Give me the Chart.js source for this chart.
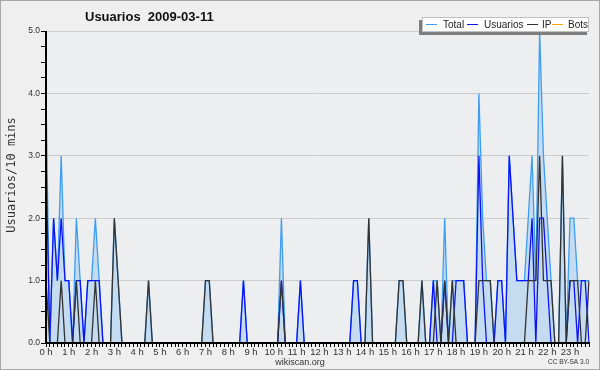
<!DOCTYPE html>
<html>
<head>
<meta charset="utf-8">
<script src="https://cdn.jsdelivr.net/npm/chart.js@4"></script>
<style>
  body { margin: 0; background: #fff; }
  #chart { display: block; }
</style>
</head>
<body>
<canvas id="chart" width="600" height="370"></canvas>
<script>
// one value per 10 minutes, 0 h .. 23 h 50
const hourLabels = ['0 h', '1 h', '2 h', '3 h', '4 h', '5 h', '6 h', '7 h', '8 h', '9 h', '10 h', '11 h',
    '12 h', '13 h', '14 h', '15 h', '16 h', '17 h', '18 h', '19 h', '20 h', '21 h', '22 h', '23 h'];

const total = [
    4,0,2,1,3,1, 1,0,2,1,0,1, 1,2,1,0,0,0, 2,1,0,0,0,0,
    0,0,0,1,0,0, 0,0,0,0,0,0, 0,0,0,0,0,0, 1,1,0,0,0,0,
    0,0,0,0,1,0, 0,0,0,0,0,0, 0,0,2,0,0,0, 0,1,0,0,0,0,
    0,0,0,0,0,0, 0,0,0,1,1,0, 0,2,0,0,0,0, 0,0,0,1,1,0,
    0,0,0,1,0,0, 1,1,0,2,0,1, 1,1,1,0,0,0, 4,2,1,1,0,1,
    1,0,3,2,1,1, 1,2,3,1,5,3, 2,1,0,0,3,0, 2,2,1,1,1,1
];
const usuarios = [
    3,0,2,1,2,1, 1,0,1,1,0,1, 1,1,1,0,0,0, 0,0,0,0,0,0,
    0,0,0,0,0,0, 0,0,0,0,0,0, 0,0,0,0,0,0, 0,0,0,0,0,0,
    0,0,0,0,1,0, 0,0,0,0,0,0, 0,0,1,0,0,0, 0,1,0,0,0,0,
    0,0,0,0,0,0, 0,0,0,1,1,0, 0,0,0,0,0,0, 0,0,0,0,0,0,
    0,0,0,0,0,0, 1,0,0,1,0,0, 1,1,1,0,0,0, 3,1,0,0,0,1,
    1,0,3,2,1,1, 1,1,2,0,2,2, 1,0,0,0,0,0, 1,1,0,1,1,0
];
const ip = [
    1,0,0,0,1,0, 0,0,1,0,0,0, 0,1,0,0,0,0, 2,1,0,0,0,0,
    0,0,0,1,0,0, 0,0,0,0,0,0, 0,0,0,0,0,0, 1,1,0,0,0,0,
    0,0,0,0,0,0, 0,0,0,0,0,0, 0,0,1,0,0,0, 0,0,0,0,0,0,
    0,0,0,0,0,0, 0,0,0,0,0,0, 0,2,0,0,0,0, 0,0,0,1,1,0,
    0,0,0,1,0,0, 0,1,0,1,0,1, 0,0,0,0,0,0, 1,1,1,1,0,0,
    0,0,0,0,0,0, 0,1,1,1,3,1, 1,1,0,0,3,0, 1,1,1,0,0,1
];
const bots = [
    0,0,0,0,0,0, 0,0,0,0,0,0, 0,0,0,0,0,0, 0,0,0,0,0,0,
    0,0,0,0,0,0, 0,0,0,0,0,0, 0,0,0,0,0,0, 0,0,0,0,0,0,
    0,0,0,0,0,0, 0,0,0,0,0,0, 0,0,0,0,0,0, 0,0,0,0,0,0,
    0,0,0,0,0,0, 0,0,0,0,0,0, 0,0,0,0,0,0, 0,0,0,0,0,0,
    0,0,0,0,0,0, 0,0,0,0,0,0, 0,0,0,0,0,0, 0,0,0,0,0,0,
    0,0,0,0,0,0, 0,0,0,0,0,0, 0,0,0,0,0,0, 0,0,0,0,0,0
];

const seriesNames = ['Total', 'Usuarios', 'IP', 'Bots'];
const seriesColors = ['#3d9df2', '#0a14f5', '#333333', '#ffa31a'];

// slot labels (one per 10 minutes)
const slots = [];
hourLabels.forEach((h, i) => {
    for (let m = 0; m < 6; m++) slots.push(i + ':' + m + '0');
});

const decor = {
    id: 'decor',
    beforeDraw(chart) {
        const { ctx, chartArea: a } = chart;
        ctx.save();
        ctx.fillStyle = '#efefef';
        ctx.fillRect(0, 0, 600, 370);
        ctx.strokeStyle = '#a8a8a8';
        ctx.lineWidth = 1;
        ctx.strokeRect(0.5, 0.5, 599, 369);
        ctx.fillStyle = '#eceef0';
        ctx.fillRect(a.left, a.top, a.right - a.left, a.bottom - a.top);
        ctx.restore();
    },
    afterDatasetsDraw(chart) {
        // axes on top of the lines, like the original
        const { ctx, chartArea: a } = chart;
        ctx.save();
        ctx.strokeStyle = '#000';
        ctx.lineWidth = 2;
        ctx.beginPath();
        ctx.moveTo(a.left, a.top);
        ctx.lineTo(a.left, a.bottom);
        ctx.lineTo(a.right + 1, a.bottom);
        ctx.stroke();
        ctx.restore();
    },
    afterDraw(chart) {
        const ctx = chart.ctx;
        ctx.save();
        ctx.fillStyle = '#111';
        ctx.font = 'bold 13px "Liberation Sans"';
        ctx.textAlign = 'left';
        ctx.textBaseline = 'alphabetic';
        ctx.fillText('Usuarios  2009-03-11', 85, 21);

        // y title
        ctx.save();
        ctx.translate(12, 175);
        ctx.rotate(-Math.PI / 2);
        ctx.font = '12px "DejaVu Sans Mono"';
        ctx.textAlign = 'center';
        ctx.textBaseline = 'middle';
        ctx.fillStyle = '#333';
        ctx.fillText('Usuarios/10 mins', 0, 0);
        ctx.restore();

        // legend box with shadow
        ctx.fillStyle = '#7d7d7d';
        ctx.fillRect(419, 20, 168, 15);
        ctx.fillStyle = '#fff';
        ctx.fillRect(422, 17, 167, 15);
        ctx.strokeStyle = '#c0c0c0';
        ctx.lineWidth = 1;
        ctx.strokeRect(422.5, 17.5, 166, 14);
        const lineX = [426, 467, 527, 552];
        const textX = [443, 484, 542, 568];
        ctx.font = '10px "Liberation Sans"';
        ctx.textAlign = 'left';
        ctx.textBaseline = 'middle';
        seriesNames.forEach((name, i) => {
            ctx.strokeStyle = seriesColors[i];
            ctx.lineWidth = 1;
            ctx.beginPath();
            ctx.moveTo(lineX[i], 24.5);
            ctx.lineTo(lineX[i] + 11, 24.5);
            ctx.stroke();
            ctx.fillStyle = '#222';
            ctx.fillText(name, textX[i], 25);
        });

        // footer
        ctx.fillStyle = '#333';
        ctx.font = '9px "Liberation Sans"';
        ctx.textAlign = 'center';
        ctx.textBaseline = 'alphabetic';
        ctx.fillText('wikiscan.org', 300, 365);
        ctx.font = '6.5px "Liberation Sans"';
        ctx.textAlign = 'right';
        ctx.fillText('CC BY-SA 3.0', 589, 364);
        ctx.restore();
    }
};

const ctx = document.getElementById('chart').getContext('2d');
const chart = new Chart(ctx, {
    type: 'line',
    data: {
        labels: slots,
        datasets: [
            { label: seriesNames[0], data: total, borderColor: seriesColors[0], backgroundColor: '#c5dbef',
              fill: 'origin', borderWidth: 1.3, order: 3 },
            { label: seriesNames[1], data: usuarios, borderColor: seriesColors[1], fill: false, borderWidth: 1.3, order: 2 },
            { label: seriesNames[2], data: ip, borderColor: seriesColors[2], fill: false, borderWidth: 1.3, order: 1 },
            { label: seriesNames[3], data: bots, borderColor: seriesColors[3], fill: false, borderWidth: 1.3, order: 0 }
        ]
    },
    options: {
        responsive: false,
        animation: false,
        devicePixelRatio: 1,
        elements: { point: { radius: 0 }, line: { tension: 0 } },
        layout: { padding: { left: 0, top: 31, right: 11, bottom: 0 } },
        plugins: {
            legend: { display: false },
            title: { display: false },
            tooltip: { enabled: false }
        },
        scales: {
            x: {
                type: 'category',
                offset: false,
                afterFit: scale => { scale.height = 27; },
                border: { display: false },
                grid: { drawOnChartArea: false, drawTicks: true, tickLength: 4, tickColor: '#000' },
                ticks: {
                    autoSkip: false,
                    maxRotation: 0,
                    padding: 0,
                    color: '#333',
                    font: { family: 'Liberation Sans', size: 9.5 },
                    callback: (v, i) => (i % 6 === 0 ? hourLabels[i / 6] : '')
                }
            },
            y: {
                min: 0,
                max: 5,
                afterFit: scale => { scale.width = 46; },
                border: { display: false },
                grid: {
                    color: c => (c.tick && c.tick.value % 1 === 0 ? '#cccccc' : 'rgba(0,0,0,0)'),
                    tickColor: '#000',
                    tickLength: 5
                },
                ticks: {
                    stepSize: 0.25,
                    padding: 1,
                    color: '#333',
                    font: { family: 'Liberation Sans', size: 8.5 },
                    callback: v => (v % 1 === 0 ? v.toFixed(1) : '')
                }
            }
        }
    },
    plugins: [decor]
});
</script>
</body>
</html>
